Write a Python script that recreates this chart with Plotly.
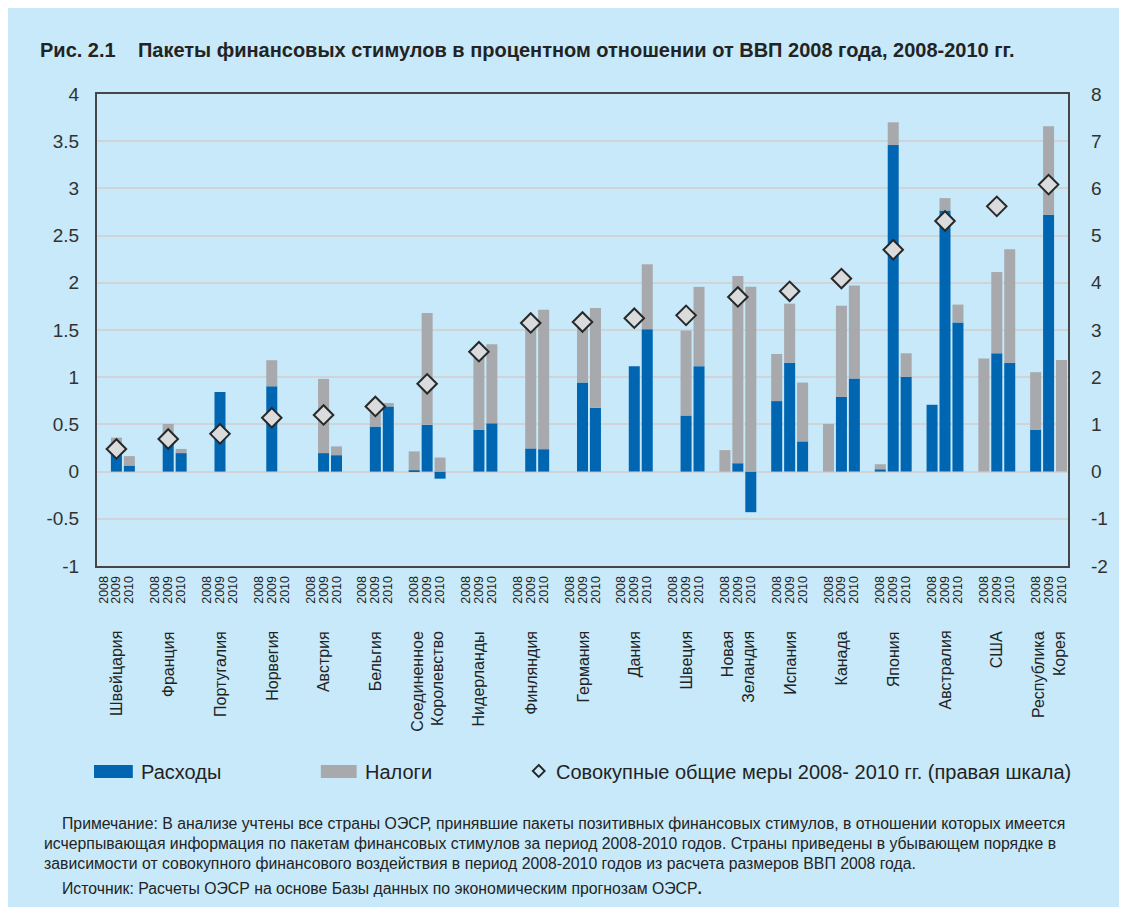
import plotly.graph_objects as go

countries = ["Швейцария", "Франция", "Португалия", "Норвегия", "Австрия", "Бельгия",
             "Соединенное<br>Королевство", "Нидерланды", "Финляндия", "Германия", "Дания",
             "Швеция", "Новая<br>Зеландия", "Испания", "Канада", "Япония", "Австралия",
             "США", "Республика<br>Корея"]
years = ["2008", "2009", "2010"]

# Расходы (expenditure), % of 2008 GDP
spend_2008 = [None, None, None, None, None, None, 0.014, None, None, None, None,
              None, None, 0.747, None, 0.025, 0.708, None, 0.441]
spend_2009 = [0.21, 0.31, 0.843, 0.904, 0.196, 0.477, 0.495, 0.441, 0.246, 0.943, 1.117,
              0.594, 0.089, 1.153, 0.79, 3.459, 2.765, 1.253, 2.722]
spend_2010 = [0.064, 0.196, None, None, 0.174, 0.69, -0.075, 0.512, 0.238, 0.676, 1.509,
              1.117, -0.43, 0.32, 0.986, 1.004, 1.58, 1.153, None]

# Налоги (taxes), % of 2008 GDP
tax_2008 = [None, None, None, None, None, None, 0.20, None, None, None, None,
            None, 0.228, 0.499, 0.505, 0.053, None, 1.199, 0.612]
tax_2009 = [0.15, 0.195, None, 0.276, 0.786, 0.21, 1.185, 0.83, 1.30, 0.64, None,
            0.901, 1.982, 0.626, 0.968, 0.241, 0.132, 0.861, 0.936]
tax_2010 = [0.10, 0.044, None, None, 0.093, 0.036, 0.149, 0.837, 1.477, 1.057, 0.687,
            0.84, 1.957, 0.623, 0.986, 0.249, 0.189, 1.203, 1.181]

# Совокупные общие меры 2008-2010 (right scale)
total = [0.48, 0.69, 0.80, 1.14, 1.20, 1.38, 1.86, 2.54, 3.15, 3.17, 3.25, 3.31,
         3.70, 3.82, 4.09, 4.70, 5.31, 5.62, 6.08]

left_ticks = [4, 3.5, 3, 2.5, 2, 1.5, 1, 0.5, 0, -0.5, -1]
right_ticks = [8, 7, 6, 5, 4, 3, 2, 1, 0, -1, -2]

title_text = "Рис. 2.1&nbsp;&nbsp;&nbsp;&nbsp;Пакеты финансовых стимулов в процентном отношении от ВВП 2008 года, 2008-2010 гг."
legend_labels = ["Расходы", "Налоги", "Совокупные общие меры 2008- 2010 гг. (правая шкала)"]
note_lines = [
    "Примечание: В анализе учтены все страны ОЭСР, принявшие пакеты позитивных финансовых стимулов, в отношении которых имеется",
    "исчерпывающая информация по пакетам финансовых стимулов за период 2008-2010 годов. Страны приведены в убывающем порядке в",
    "зависимости от совокупного финансового воздействия в период 2008-2010 годов из расчета размеров ВВП 2008 года.",
]
source_text = "Источник: Расчеты ОЭСР на основе Базы данных по экономическим прогнозам ОЭСР<b>.</b>"

BG = "rgb(199,233,249)"
BLUE = "rgb(0,102,178)"
GRAY = "rgb(167,169,172)"
GRID = "rgb(208,212,214)"
AX = "rgb(70,70,70)"
TXT = "rgb(35,35,35)"
FONT = "Liberation Sans, Arial, sans-serif"

OFF = 8  # page body margin
W, H = 1112, 899
L, R, T, B = 97 - OFF, 1073 - OFF, 94 - OFF, 566 - OFF


def px(xs_):
    return (xs_ - OFF - L) / (R - L)


def py(ys_):
    return (B - (ys_ - OFF)) / (B - T)


n = len(countries)
spend_by_year = [spend_2008, spend_2009, spend_2010]
tax_by_year = [tax_2008, tax_2009, tax_2010]

xs, sp, tx, tickx, tickt = [], [], [], [], []
for g in range(n):
    for j in range(3):
        pos = g * 4 + j
        xs.append(pos)
        sp.append(spend_by_year[j][g])
        tx.append(tax_by_year[j][g])
        tickx.append(pos)
        tickt.append(years[j])

fig = go.Figure()
fig.add_trace(go.Bar(x=xs, y=sp, marker=dict(color=BLUE, line=dict(width=0)),
                     width=0.85, name=legend_labels[0], showlegend=False))
fig.add_trace(go.Bar(x=xs, y=tx, marker=dict(color=GRAY, line=dict(width=0)),
                     width=0.85, name=legend_labels[1], showlegend=False))
fig.add_trace(go.Scatter(x=[g * 4 + 1 for g in range(n)], y=total, yaxis="y2", mode="markers",
                         marker=dict(symbol="diamond", size=15, color="rgb(218,219,221)",
                                     line=dict(color="rgb(40,40,40)", width=2)),
                         name=legend_labels[2], showlegend=False))

fig.update_layout(
    width=W, height=H,
    barmode="relative",
    paper_bgcolor=BG, plot_bgcolor=BG,
    margin=dict(l=L, r=W - R, t=T, b=H - B, pad=0),
    font=dict(family=FONT, color=TXT),
    xaxis=dict(range=[-0.5, 4 * n - 1.5], tickmode="array", tickvals=tickx, ticktext=tickt,
               tickangle=-90, tickfont=dict(size=12.5, color=TXT),
               showline=True, linecolor=AX, linewidth=2, mirror=True,
               showgrid=False, zeroline=False, ticks="", ticklabelstandoff=3),
    yaxis=dict(range=[-1, 4], tickmode="array", tickvals=left_ticks,
               ticktext=[f"{v:g}" for v in left_ticks],
               tickfont=dict(size=19, color="rgb(50,50,50)"),
               showline=True, linecolor=AX, linewidth=2, mirror=True,
               showgrid=True, gridcolor=GRID, gridwidth=1.5,
               zeroline=True, zerolinecolor=GRID, zerolinewidth=1.5,
               ticks="", ticklabelstandoff=12),
    yaxis2=dict(range=[-2, 8], overlaying="y", side="right", tickmode="array",
                tickvals=right_ticks, ticktext=[f"{v:g}" for v in right_ticks],
                tickfont=dict(size=19, color="rgb(50,50,50)"),
                showgrid=False, zeroline=False, showline=False, ticks="",
                ticklabelstandoff=22),
)

annotations = []
for g, c in enumerate(countries):
    annotations.append(dict(x=g * 4 + 1, xref="x", y=py(629), yref="paper", text=c,
                            textangle=-90, showarrow=False, xanchor="center", yanchor="top",
                            align="right", font=dict(size=16, color=TXT)))

annotations.append(dict(x=px(38), xref="paper", y=py(50), yref="paper", text="<b>" + title_text + "</b>",
                        showarrow=False, xanchor="left", yanchor="middle",
                        font=dict(size=20, color=TXT)))

# legend
annotations.append(dict(x=px(139), xref="paper", y=py(772), yref="paper", text=legend_labels[0],
                        showarrow=False, xanchor="left", yanchor="middle", font=dict(size=20, color=TXT)))
annotations.append(dict(x=px(364), xref="paper", y=py(772), yref="paper", text=legend_labels[1],
                        showarrow=False, xanchor="left", yanchor="middle", font=dict(size=20, color=TXT)))
annotations.append(dict(x=px(556), xref="paper", y=py(772), yref="paper", text=legend_labels[2],
                        showarrow=False, xanchor="left", yanchor="middle", font=dict(size=20, color=TXT)))

note_pos = [(60, 823), (42, 843), (42, 863)]
for (xx, yy), line in zip(note_pos, note_lines):
    annotations.append(dict(x=px(xx), xref="paper", y=py(yy), yref="paper", text=line,
                            showarrow=False, xanchor="left", yanchor="middle",
                            font=dict(size=15.8, color=TXT)))
annotations.append(dict(x=px(60), xref="paper", y=py(888), yref="paper", text=source_text,
                        showarrow=False, xanchor="left", yanchor="middle",
                        font=dict(size=15.8, color=TXT)))

shapes = [
    dict(type="rect", xref="paper", yref="paper", x0=px(94), x1=px(133), y0=py(765), y1=py(778),
         fillcolor=BLUE, line=dict(width=0)),
    dict(type="rect", xref="paper", yref="paper", x0=px(322), x1=px(358), y0=py(765), y1=py(778),
         fillcolor=GRAY, line=dict(width=0)),
    dict(type="path", xref="paper", yref="paper",
         path=f"M {px(541)},{py(765)} L {px(547)},{py(771)} L {px(541)},{py(777)} L {px(535)},{py(771)} Z",
         fillcolor="rgba(0,0,0,0)", line=dict(color=TXT, width=1.8)),
]

fig.update_layout(annotations=annotations, shapes=shapes)

fig.write_html("out.html")
